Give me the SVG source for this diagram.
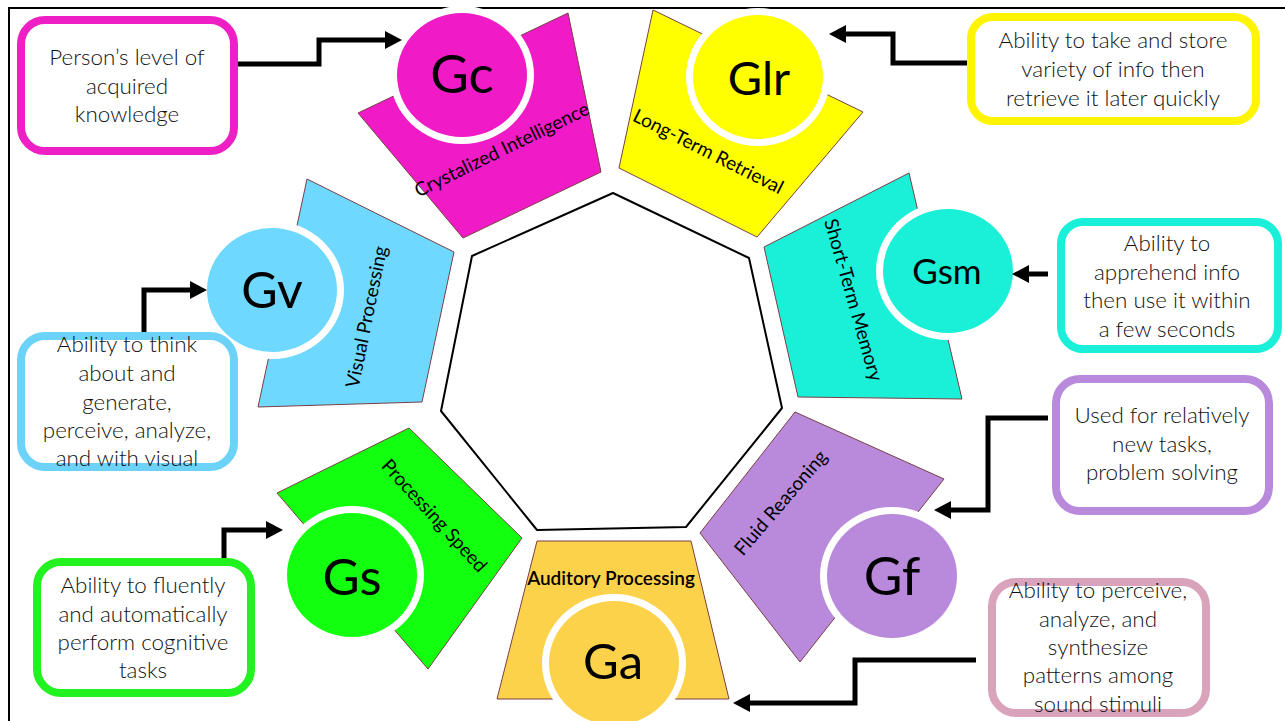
<svg xmlns="http://www.w3.org/2000/svg" width="1285" height="721" viewBox="0 0 1285 721">
  <style>
    .desc { font-family: Lato, "Liberation Sans", sans-serif; font-weight: 300; font-size: 22.4px; fill: #111; text-anchor: middle; }
    .big { font-family: Lato, "Liberation Sans", sans-serif; fill: #000; text-anchor: middle; }
    .lbl { font-family: Lato, "Liberation Sans", sans-serif; font-size: 19px; fill: #000; text-anchor: middle; }
    .box { fill: #fff; stroke-width: 8; }
    .wedge { stroke: #7a3f45; stroke-width: 1; }
    .ring { fill: #fff; }
    .conn { fill: none; stroke: #000; stroke-width: 5; stroke-linejoin: miter; marker-end: url(#head); }
    .hept { fill: #fff; stroke: #000; stroke-width: 2; stroke-linejoin: round; }
  </style>
  <defs>
    <marker id="head" markerUnits="userSpaceOnUse" markerWidth="17" markerHeight="18" refX="0" refY="9" orient="auto" viewBox="0 0 17 18">
      <path d="M0,0 L17,9 L0,18 Z" fill="#000"/>
    </marker>
  </defs>

  <rect x="0" y="0" width="1285" height="721" fill="#fff"/>
  <!-- frame -->
  <path d="M9,721 V8 H1285" fill="none" stroke="#000" stroke-width="2"/>

  <!-- central heptagon -->
  <polygon class="hept" points="613,193 749,258 782,408 686,527 537,530 441,411 472,256"/>

  <!-- Gc : crystalized intelligence -->
  <g id="gc">
    <polygon class="wedge" fill="#f01bc7" points="358,113 568,13 601,172 463,238"/>
    <text class="lbl" transform="translate(502,150) rotate(-26)" y="6">Crystalized Intelligence</text>
    <ellipse class="ring" cx="462" cy="75" rx="72" ry="69"/>
    <ellipse fill="#f01bc7" cx="462" cy="75" rx="65" ry="62"/>
    <text class="big" x="462" y="93" font-size="53">Gc</text>
  </g>

  <!-- Glr : long-term retrieval -->
  <g id="glr">
    <polygon class="wedge" fill="#ffff00" points="653,10 863,112 757,237 619,168"/>
    <text class="lbl" transform="translate(708,152) rotate(26.7)" y="6">Long-Term Retrieval</text>
    <ellipse class="ring" cx="758" cy="77" rx="72" ry="69"/>
    <ellipse fill="#ffff00" cx="758" cy="77" rx="65" ry="62"/>
    <text class="big" x="759" y="95" font-size="47">Glr</text>
  </g>

  <!-- Gsm : short-term memory -->
  <g id="gsm">
    <polygon class="wedge" fill="#1af0d8" points="764,247 909,173 962,399 798,397"/>
    <text class="lbl" transform="translate(853,300) rotate(74)" y="6">Short-Term Memory</text>
    <ellipse class="ring" cx="948" cy="271" rx="72" ry="69"/>
    <ellipse fill="#1af0d8" cx="948" cy="271" rx="65" ry="62"/>
    <text class="big" x="947" y="284" font-size="35">Gsm</text>
  </g>

  <!-- Gf : fluid reasoning -->
  <g id="gf">
    <polygon class="wedge" fill="#b98adc" points="795,412 944,479 800,662 700,533"/>
    <text class="lbl" transform="translate(781,503) rotate(-49.4)" y="6">Fluid Reasoning</text>
    <ellipse class="ring" cx="892" cy="576" rx="72" ry="69"/>
    <ellipse fill="#b98adc" cx="892" cy="576" rx="65" ry="62"/>
    <text class="big" x="892" y="595" font-size="53">Gf</text>
  </g>

  <!-- Ga : auditory processing -->
  <g id="ga">
    <polygon class="wedge" fill="#fdd24b" points="537,541 691,541 729,699 497,699"/>
    <text class="lbl" x="611" y="585" font-weight="600" font-size="18.5">Auditory Processing</text>
    <ellipse class="ring" cx="614" cy="663" rx="72" ry="69"/>
    <ellipse fill="#fdd24b" cx="614" cy="663" rx="65" ry="62"/>
    <text class="big" x="613" y="679" font-size="49">Ga</text>
  </g>

  <!-- Gs : processing speed -->
  <g id="gs">
    <polygon class="wedge" fill="#12ff10" points="277,493 409,428 522,538 428,669"/>
    <text class="lbl" transform="translate(434,516) rotate(47.4)" y="6">Processing Speed</text>
    <ellipse class="ring" cx="352" cy="575" rx="72" ry="69"/>
    <ellipse fill="#12ff10" cx="352" cy="575" rx="65" ry="62"/>
    <text class="big" x="352" y="595" font-size="51">Gs</text>
  </g>

  <!-- Gv : visual processing -->
  <g id="gv">
    <polygon class="wedge" fill="#6ed8ff" points="307,179 454,252 422,402 258,407"/>
    <text class="lbl" transform="translate(367,317) rotate(-78.5)" y="6">Visual Processing</text>
    <ellipse class="ring" cx="272" cy="290" rx="72" ry="69"/>
    <ellipse fill="#6ed8ff" cx="272" cy="290" rx="65" ry="62"/>
    <text class="big" x="272" y="308" font-size="50">Gv</text>
  </g>

  <!-- description boxes -->
  <g id="desc-gc">
    <rect class="box" stroke="#ee1fc4" x="21" y="20" width="213" height="131" rx="24"/>
    <text class="desc" x="127" y="65">Person’s level of</text>
    <text class="desc" x="127" y="94">acquired</text>
    <text class="desc" x="127" y="122">knowledge</text>
  </g>

  <g id="desc-glr">
    <rect class="box" stroke="#fff500" x="971" y="17" width="285" height="104" rx="22"/>
    <text class="desc" x="1113" y="48">Ability to take and store</text>
    <text class="desc" x="1113" y="77">variety of info then</text>
    <text class="desc" x="1113" y="106">retrieve it later quickly</text>
  </g>

  <g id="desc-gsm">
    <rect class="box" stroke="#1aefd9" x="1061" y="222" width="217" height="127" rx="22"/>
    <text class="desc" x="1167" y="251">Ability to</text>
    <text class="desc" x="1167" y="280">apprehend info</text>
    <text class="desc" x="1167" y="308">then use it within</text>
    <text class="desc" x="1167" y="337">a few seconds</text>
  </g>

  <g id="desc-gf">
    <rect class="box" stroke="#b98adb" x="1056" y="379" width="213" height="132" rx="24"/>
    <text class="desc" x="1162" y="423">Used for relatively</text>
    <text class="desc" x="1162" y="452">new tasks,</text>
    <text class="desc" x="1162" y="480">problem solving</text>
  </g>

  <g id="desc-ga">
    <rect class="box" stroke="#d9a3bb" x="992" y="582" width="214" height="131" rx="24"/>
    <text class="desc" x="1098" y="598">Ability to perceive,</text>
    <text class="desc" x="1098" y="627">analyze, and</text>
    <text class="desc" x="1098" y="655">synthesize</text>
    <text class="desc" x="1098" y="683">patterns among</text>
    <text class="desc" x="1098" y="712">sound stimuli</text>
  </g>

  <g id="desc-gs">
    <rect class="box" stroke="#22f21f" x="37" y="562" width="214" height="131" rx="24"/>
    <text class="desc" x="143" y="593">Ability to fluently</text>
    <text class="desc" x="143" y="622">and automatically</text>
    <text class="desc" x="143" y="650">perform cognitive</text>
    <text class="desc" x="143" y="678">tasks</text>
  </g>

  <g id="desc-gv">
    <rect class="box" stroke="#6dd2f8" x="21" y="336" width="213" height="131" rx="24"/>
    <text class="desc" x="127" y="352">Ability to think</text>
    <text class="desc" x="127" y="381">about and</text>
    <text class="desc" x="127" y="410">generate,</text>
    <text class="desc" x="127" y="438">perceive, analyze,</text>
    <text class="desc" x="127" y="466">and with visual</text>
  </g>

  <!-- connectors: description box to ability circle -->
  <g id="connectors">
    <path class="conn" d="M238,64 H319 V40 H385"/>
    <path class="conn" d="M967,63 H893 V34 H846"/>
    <path class="conn" d="M1048,274 H1029"/>
    <path class="conn" d="M1048,418 H988 V510 H951"/>
    <path class="conn" d="M976,660 H855 V703 H750"/>
    <path class="conn" d="M144,332 V290 H190"/>
    <path class="conn" d="M224,558 V530 H266"/>
  </g>
</svg>
